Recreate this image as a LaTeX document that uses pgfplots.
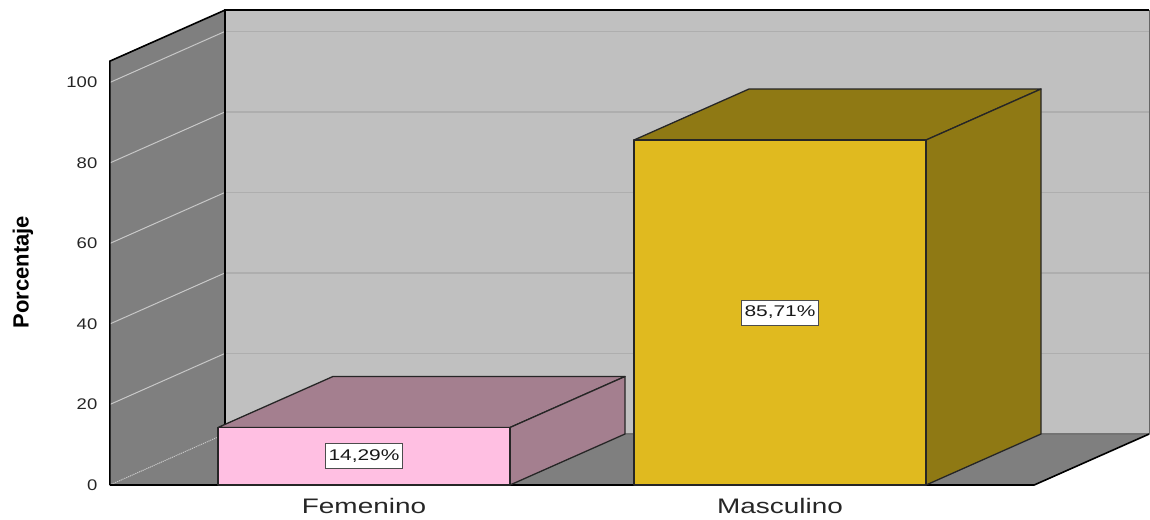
\documentclass[border=0pt]{standalone}
\usepackage{pgfplots}
\pgfplotsset{compat=1.18}
\usepackage{fontspec}
\setmainfont{Liberation Sans}
\newfontfamily\wideF{Liberation Sans}[FakeStretch=1.33]
\newfontfamily\tickF{Liberation Sans}[FakeStretch=1.2]
\newfontfamily\lblF{Liberation Sans}[FakeStretch=1.35]
\definecolor{wallback}{RGB}{192,192,192}
\definecolor{wallside}{RGB}{127,127,127}
\definecolor{gridback}{RGB}{174,174,174}
\definecolor{gridside}{RGB}{200,200,200}
\definecolor{pinkF}{RGB}{255,191,226}
\definecolor{pinkD}{RGB}{164,127,143}
\definecolor{yelF}{RGB}{224,186,31}
\definecolor{yelD}{RGB}{143,121,20}
\begin{document}
\begin{tikzpicture}
\begin{axis}[
  x={(416pt,0pt)}, y={(115pt,51pt)}, z={(0pt,4.025pt)},
  xmin=0.389, xmax=2.611, ymin=0, ymax=1, zmin=0, zmax=105.3,
  hide axis, clip=false, no markers,
]
% picture extent
\path (axis cs:0.125,0,-8.447) -- (axis cs:2.8894,0,120.497);
% walls and floor
\addplot3[fill=wallback, draw=none] coordinates {(0.389,1,0) (2.611,1,0) (2.611,1,105.3) (0.389,1,105.3)} -- cycle;
\addplot3[fill=wallside, draw=none] coordinates {(0.389,0,0) (0.389,1,0) (0.389,1,105.3) (0.389,0,105.3)} -- cycle;
\addplot3[fill=wallside, draw=none] coordinates {(0.389,0,0) (2.611,0,0) (2.611,1,0) (0.389,1,0)} -- cycle;
% grid lines
\pgfplotsinvokeforeach{20,40,60,80,100}{
  \addplot3[gridback, line width=1.2pt] coordinates {(0.389,1,#1) (2.611,1,#1)};
  \addplot3[gridside, line width=1pt] coordinates {(0.389,0,#1) (0.389,1,#1)};
}
\addplot3[gridside, line width=1pt, densely dotted] coordinates {(0.389,0,0) (0.389,1,0)};
% edges
\addplot3[black!60, line width=0.8pt] coordinates {(2.611,1,0) (2.611,1,105.3)};
\addplot3[black!55, line width=1.2pt] coordinates {(0.389,1,0) (2.611,1,0)};
\addplot3[black, line width=1.6pt] coordinates {(0.389,1,0) (0.389,1,105.3) (2.611,1,105.3)};
\addplot3[black, line width=1.6pt] coordinates {(0.389,0,0) (0.389,0,105.3) (0.389,1,105.3)};
\addplot3[black, line width=1.6pt] coordinates {(0.389,0,0) (2.611,0,0) (2.611,1,0)};
% bar Femenino
\addplot3[fill=pinkD, draw=black!85, line width=1.3pt, line join=round] coordinates {(0.649,0,14.29) (1.351,0,14.29) (1.351,1,14.29) (0.649,1,14.29)} -- cycle;
\addplot3[fill=pinkD, draw=black!85, line width=1.3pt, line join=round] coordinates {(1.351,0,0) (1.351,1,0) (1.351,1,14.29) (1.351,0,14.29)} -- cycle;
\addplot3[fill=pinkF, draw=black!85, line width=1.3pt, line join=round] coordinates {(0.649,0,0) (1.351,0,0) (1.351,0,14.29) (0.649,0,14.29)} -- cycle;
% bar Masculino
\addplot3[fill=yelD, draw=black!85, line width=1.3pt, line join=round] coordinates {(1.649,0,85.71) (2.351,0,85.71) (2.351,1,85.71) (1.649,1,85.71)} -- cycle;
\addplot3[fill=yelD, draw=black!85, line width=1.3pt, line join=round] coordinates {(2.351,0,0) (2.351,1,0) (2.351,1,85.71) (2.351,0,85.71)} -- cycle;
\addplot3[fill=yelF, draw=black!85, line width=1.3pt, line join=round] coordinates {(1.649,0,0) (2.351,0,0) (2.351,0,85.71) (1.649,0,85.71)} -- cycle;
% data labels
\node[fill=white, draw=black!70, line width=1pt, inner xsep=3pt, minimum height=25pt, font=\lblF\fontsize{15.5}{17}\selectfont, text=black!90] at (axis cs:1,0,7.145) {14,29\%};
\node[fill=white, draw=black!70, line width=1pt, inner xsep=3pt, minimum height=25pt, font=\lblF\fontsize{15.5}{17}\selectfont, text=black!90] at (axis cs:2,0,42.855) {85,71\%};
% tick labels
\pgfplotsinvokeforeach{0,20,40,60,80,100}{
  \node[anchor=east, xshift=-9pt, font=\tickF\fontsize{15.4}{17}\selectfont, text=black!85] at (axis cs:0.389,0,#1) {#1};
}
% category labels
\node[anchor=base, yshift=-28pt, font=\wideF\fontsize{21}{24}\selectfont, text=black!85] at (axis cs:1,0,0) {Femenino};
\node[anchor=base, yshift=-28pt, font=\wideF\fontsize{21}{24}\selectfont, text=black!85] at (axis cs:2,0,0) {Masculino};
% axis title
\node[rotate=90, font=\bfseries\fontsize{22}{24}\selectfont] at (axis cs:0.180,0,52.9) {Porcentaje};
\end{axis}
\end{tikzpicture}
\end{document}
